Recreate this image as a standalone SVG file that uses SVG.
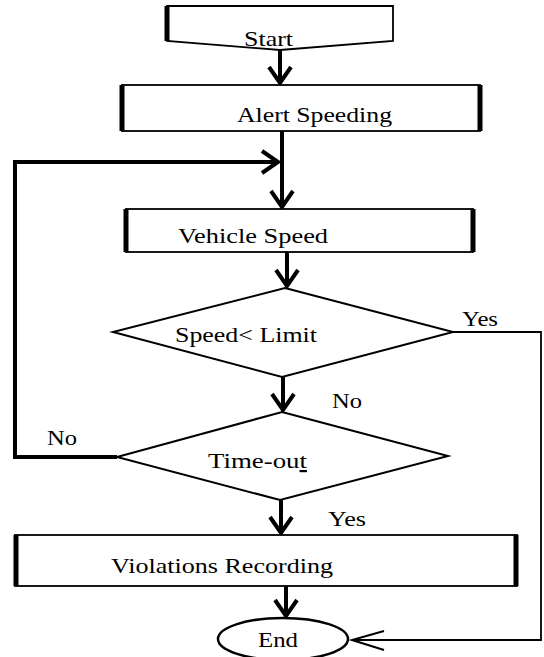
<svg xmlns="http://www.w3.org/2000/svg" width="544" height="657" viewBox="0 0 544 657">
<style>
  .box{fill:#fff;stroke:#000;stroke-width:1.8}
  .edge{stroke:#000;stroke-width:5}
  .dia{fill:#fff;stroke:#000;stroke-width:2}
  .lbl{font-family:"Liberation Serif","Times New Roman",serif;font-size:22px;fill:#000}
  .thick{fill:none;stroke:#000;stroke-width:4}
  .thin{fill:none;stroke:#000;stroke-width:1.8}
</style>
<defs>
  <marker id="ah" markerUnits="userSpaceOnUse" viewBox="-20 -15 24 30" refX="0" refY="0" markerWidth="24" markerHeight="30" orient="auto">
    <path d="M-16,-11 L0,0 L-16,11" fill="none" stroke="#000" stroke-width="4"/>
  </marker>
  <marker id="ahThin" markerUnits="userSpaceOnUse" viewBox="-36 -14 40 28" refX="0" refY="0" markerWidth="40" markerHeight="28" orient="auto">
    <path d="M-32,-10 L0,0 L-32,9" fill="none" stroke="#000" stroke-width="2"/>
  </marker>
</defs>
<rect width="544" height="657" fill="#fff"/>

<g id="connectors">
  <line class="thick" x1="280" y1="50" x2="280" y2="83" marker-end="url(#ah)"/>
  <line class="thick" x1="282" y1="131" x2="282" y2="207" marker-end="url(#ah)"/>
  <polyline class="thick" points="117,457 15,457 15,162 278,162" marker-end="url(#ah)"/>
  <line class="thick" x1="287" y1="252" x2="287" y2="286" marker-end="url(#ah)"/>
  <line class="thick" x1="283" y1="377" x2="283" y2="410" marker-end="url(#ah)"/>
  <line class="thick" x1="281" y1="500" x2="281" y2="533" marker-end="url(#ah)"/>
  <line class="thick" x1="286" y1="586" x2="286" y2="616" marker-end="url(#ah)"/>
  <polyline class="thin" points="453,332 541,332 541,640 352,640" marker-end="url(#ahThin)"/>
  <text class="lbl" x="462" y="326" textLength="36" lengthAdjust="spacingAndGlyphs">Yes</text>
  <text class="lbl" x="332" y="408" textLength="30" lengthAdjust="spacingAndGlyphs">No</text>
  <text class="lbl" x="47" y="445" textLength="30" lengthAdjust="spacingAndGlyphs">No</text>
  <text class="lbl" x="328" y="526" textLength="38" lengthAdjust="spacingAndGlyphs">Yes</text>
</g>

<g id="start">
  <polygon class="box" points="167,6 393,6 393,41 280,50 167,41"/>
  <line class="edge" x1="167" y1="6" x2="167" y2="41" stroke-width="3"/>
  <text class="lbl" x="244" y="46" textLength="49" lengthAdjust="spacingAndGlyphs">Start</text>
</g>

<g id="alert">
  <rect class="box" x="122" y="85" width="358" height="46"/>
  <line class="edge" x1="122" y1="85" x2="122" y2="131"/>
  <line class="edge" x1="480" y1="85" x2="480" y2="131"/>
  <text class="lbl" x="237" y="122" textLength="155" lengthAdjust="spacingAndGlyphs">Alert Speeding</text>
</g>

<g id="vehicle">
  <rect class="box" x="126" y="209" width="347" height="43"/>
  <line class="edge" x1="126" y1="209" x2="126" y2="252"/>
  <line class="edge" x1="473" y1="209" x2="473" y2="252"/>
  <text class="lbl" x="178" y="243" textLength="150" lengthAdjust="spacingAndGlyphs">Vehicle Speed</text>
</g>

<g id="speed-limit">
  <polygon class="dia" points="285,288 453,332 282,377 113,332"/>
  <text class="lbl" x="175" y="342" textLength="142" lengthAdjust="spacingAndGlyphs">Speed&lt; Limit</text>
</g>

<g id="timeout">
  <polygon class="dia" points="282,412 448,456 280,500 117,457"/>
  <text class="lbl" x="208" y="468" textLength="99" lengthAdjust="spacingAndGlyphs">Time-ou<tspan text-decoration="underline">t</tspan></text>
</g>

<g id="violations">
  <rect class="box" x="15" y="535" width="502" height="51"/>
  <line class="edge" x1="16" y1="535" x2="16" y2="586"/>
  <line class="edge" x1="516" y1="535" x2="516" y2="586"/>
  <text class="lbl" x="111" y="573" textLength="222" lengthAdjust="spacingAndGlyphs">Violations Recording</text>
</g>

<g id="end">
  <ellipse cx="283" cy="639" rx="65" ry="21" fill="#fff" stroke="#000" stroke-width="2.5"/>
  <text class="lbl" x="258" y="647" textLength="40" lengthAdjust="spacingAndGlyphs">End</text>
</g>
</svg>
